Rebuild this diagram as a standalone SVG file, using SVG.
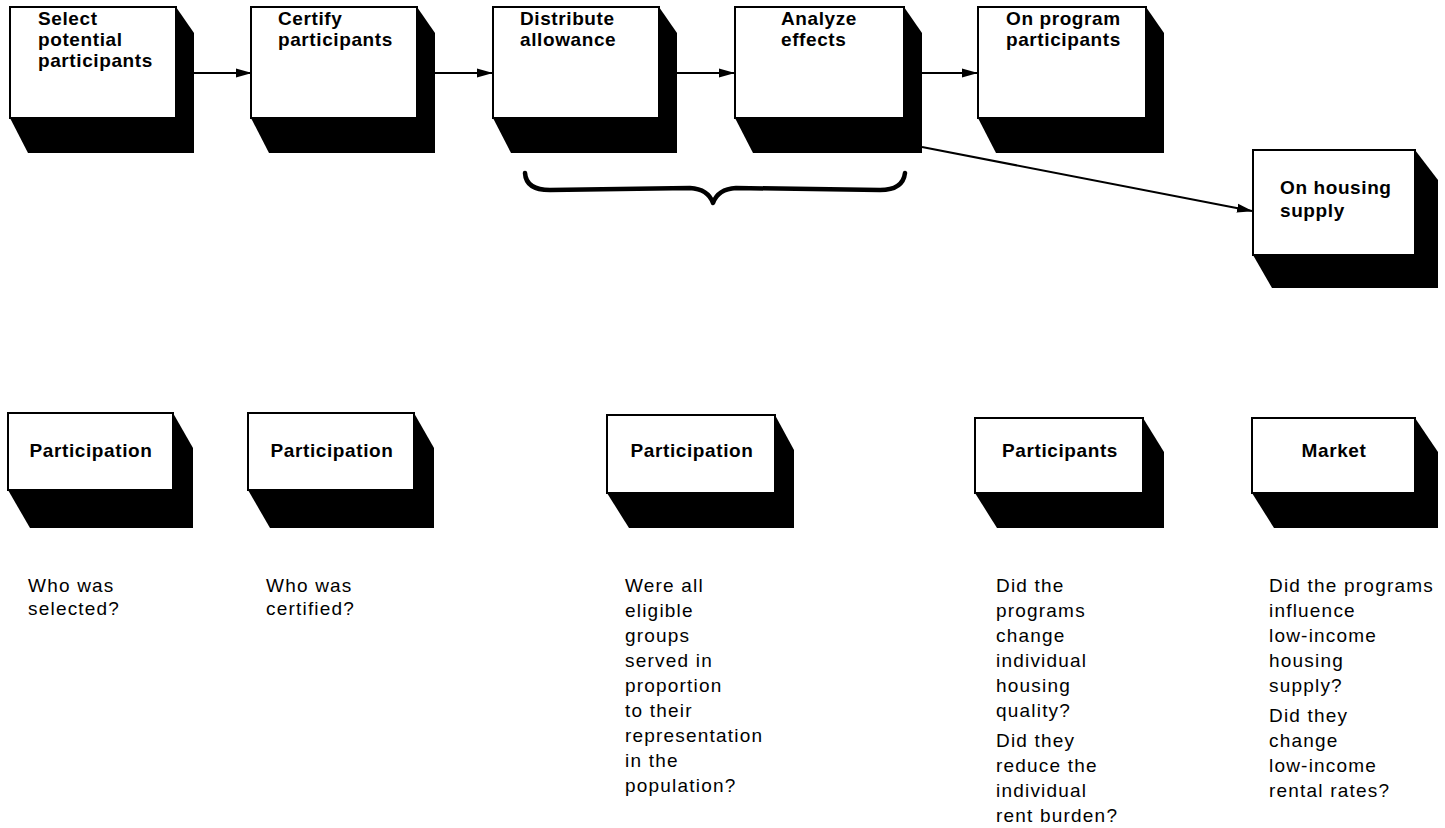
<svg xmlns="http://www.w3.org/2000/svg" width="1445" height="828" viewBox="0 0 1445 828">
<style>
.face{fill:#fff;stroke:#000;stroke-width:2}
.shadow{fill:#000}
.lbl{font-family:"Liberation Sans",Arial,sans-serif;font-weight:bold;font-size:19px;letter-spacing:0.6px;fill:#000}
.ttl{font-family:"Liberation Sans",Arial,sans-serif;font-weight:bold;font-size:19px;letter-spacing:0.6px;fill:#000;text-anchor:middle}
.q{font-family:"Liberation Sans",Arial,sans-serif;font-size:19px;letter-spacing:1.2px;fill:#000}
.conn{stroke:#000;stroke-width:2;fill:none}
</style>
<defs>
<marker id="ah" markerWidth="16" markerHeight="10" refX="15" refY="5" orient="auto" markerUnits="userSpaceOnUse">
<path d="M0,0.5 L16,5 L0,9.5 Z" fill="#000"/>
</marker>
</defs>

<g id="connectors">
<line class="conn" x1="193" y1="73" x2="251" y2="73" marker-end="url(#ah)"/>
<line class="conn" x1="434" y1="73" x2="492" y2="73" marker-end="url(#ah)"/>
<line class="conn" x1="677" y1="73" x2="734" y2="73" marker-end="url(#ah)"/>
<line class="conn" x1="922" y1="73" x2="977" y2="73" marker-end="url(#ah)"/>
<line class="conn" x1="922" y1="147" x2="1252" y2="211" marker-end="url(#ah)"/>
<path d="M525,173 Q526,190 550,190 L690,188 Q708,189 713,203 Q718,189 736,188 L880,190 Q903,190 905,173" fill="none" stroke="#000" stroke-width="4.5" stroke-linecap="round" stroke-linejoin="round"/>
</g>

<g id="n1">
<polygon class="shadow" points="176,7 194,33 194,153 28,153 10,118"/>
<rect class="face" x="10" y="7" width="166" height="111"/>
<text class="lbl"><tspan x="38" y="25">Select</tspan><tspan x="38" y="46">potential</tspan><tspan x="38" y="67">participants</tspan></text>
</g>
<g id="n2">
<polygon class="shadow" points="417,7 435,33 435,153 269,153 251,118"/>
<rect class="face" x="251" y="7" width="166" height="111"/>
<text class="lbl"><tspan x="278" y="25">Certify</tspan><tspan x="278" y="46">participants</tspan></text>
</g>
<g id="n3">
<polygon class="shadow" points="659,7 677,33 677,153 511,153 493,118"/>
<rect class="face" x="493" y="7" width="166" height="111"/>
<text class="lbl"><tspan x="520" y="25">Distribute</tspan><tspan x="520" y="46">allowance</tspan></text>
</g>
<g id="n4">
<polygon class="shadow" points="904,7 922,33 922,153 753,153 735,118"/>
<rect class="face" x="735" y="7" width="169" height="111"/>
<text class="lbl"><tspan x="781" y="25">Analyze</tspan><tspan x="781" y="46">effects</tspan></text>
</g>
<g id="n5">
<polygon class="shadow" points="1146,7 1164,33 1164,153 996,153 978,118"/>
<rect class="face" x="978" y="7" width="168" height="111"/>
<text class="lbl"><tspan x="1006" y="25">On program</tspan><tspan x="1006" y="46">participants</tspan></text>
</g>
<g id="n6">
<polygon class="shadow" points="1415,150 1438,180 1438,288 1272,288 1253,255"/>
<rect class="face" x="1253" y="150" width="162" height="105"/>
<text class="lbl"><tspan x="1280" y="194">On housing</tspan><tspan x="1280" y="217">supply</tspan></text>
</g>

<g id="b1">
<polygon class="shadow" points="173,413 193,448 193,528 30,528 8,490"/>
<rect class="face" x="8" y="413" width="165" height="77"/>
<text class="ttl" x="91" y="457">Participation</text>
<text class="q"><tspan x="28" y="592">Who was</tspan><tspan x="28" y="615">selected?</tspan></text>
</g>
<g id="b2">
<polygon class="shadow" points="414,413 434,448 434,528 270,528 248,490"/>
<rect class="face" x="248" y="413" width="166" height="77"/>
<text class="ttl" x="332" y="457">Participation</text>
<text class="q"><tspan x="266" y="592">Who was</tspan><tspan x="266" y="615">certified?</tspan></text>
</g>
<g id="b3">
<polygon class="shadow" points="775,415 794,450 794,528 629,528 607,493"/>
<rect class="face" x="607" y="415" width="168" height="78"/>
<text class="ttl" x="692" y="457">Participation</text>
<text class="q"><tspan x="625" y="592">Were all</tspan><tspan x="625" y="617">eligible</tspan><tspan x="625" y="642">groups</tspan><tspan x="625" y="667">served in</tspan><tspan x="625" y="692">proportion</tspan><tspan x="625" y="717">to their</tspan><tspan x="625" y="742">representation</tspan><tspan x="625" y="767">in the</tspan><tspan x="625" y="792">population?</tspan></text>
</g>
<g id="b4">
<polygon class="shadow" points="1143,418 1164,452 1164,528 997,528 975,493"/>
<rect class="face" x="975" y="418" width="168" height="75"/>
<text class="ttl" x="1060" y="457">Participants</text>
<text class="q"><tspan x="996" y="592">Did the</tspan><tspan x="996" y="617">programs</tspan><tspan x="996" y="642">change</tspan><tspan x="996" y="667">individual</tspan><tspan x="996" y="692">housing</tspan><tspan x="996" y="717">quality?</tspan><tspan x="996" y="747">Did they</tspan><tspan x="996" y="772">reduce the</tspan><tspan x="996" y="797">individual</tspan><tspan x="996" y="822">rent burden?</tspan></text>
</g>
<g id="b5">
<polygon class="shadow" points="1415,418 1438,452 1438,528 1274,528 1252,493"/>
<rect class="face" x="1252" y="418" width="163" height="75"/>
<text class="ttl" x="1334" y="457">Market</text>
<text class="q"><tspan x="1269" y="592">Did the programs</tspan><tspan x="1269" y="617">influence</tspan><tspan x="1269" y="642">low-income</tspan><tspan x="1269" y="667">housing</tspan><tspan x="1269" y="692">supply?</tspan><tspan x="1269" y="722">Did they</tspan><tspan x="1269" y="747">change</tspan><tspan x="1269" y="772">low-income</tspan><tspan x="1269" y="797">rental rates?</tspan></text>
</g>
</svg>
